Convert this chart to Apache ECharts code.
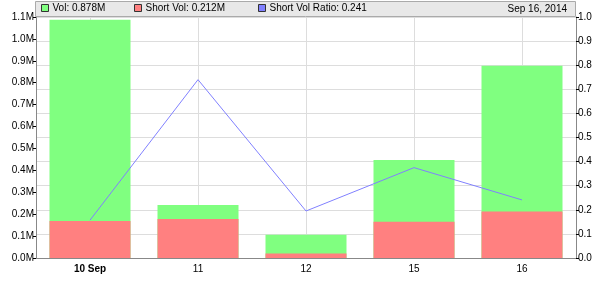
<!DOCTYPE html>
<html>
<head>
<meta charset="utf-8">
<script src="https://cdn.jsdelivr.net/npm/echarts@6/dist/echarts.min.js"></script>
<style>html,body{margin:0;padding:0;background:#fff}#c{width:600px;height:294px}</style>
</head>
<body>
<div id="c"></div>
<script>
var categories = ['10 Sep', '11', '12', '15', '16'];
var volume = [1.087, 0.242, 0.106, 0.447, 0.878];       // millions
var shortVolume = [0.169, 0.178, 0.020, 0.166, 0.212];  // millions
var shortRatio = [0.157, 0.74, 0.195, 0.375, 0.241];
var leftTicks = { min: 0, max: 1.1, interval: 0.1 };
var rightTicks = { min: 0, max: 1.0, interval: 0.1 };
var legendNames = ['Vol: 0.878M', 'Short Vol: 0.212M', 'Short Vol Ratio: 0.241'];
var dateText = 'Sep 16, 2014';

var FONT = 'Liberation Sans, Arial, sans-serif';
var chart = echarts.init(document.getElementById('c'), null, { renderer: 'canvas' });

function legendAt(name, left) {
  return {
    data: [name], left: left, top: 3, itemWidth: 7, itemHeight: 7, itemGap: 0,
    icon: 'rect', padding: 0, selectedMode: false,
    itemStyle: { borderColor: '#333', borderWidth: 1 },
    textStyle: { fontFamily: FONT, fontSize: 10, color: '#000', padding: [1, 0, 0, -1] }
  };
}

chart.setOption({
  animation: false,
  graphic: [
    { type: 'rect', z: 1, shape: { x: 35.5, y: 1.5, width: 540, height: 15 },
      style: { fill: '#e8e8e8', stroke: '#aaaaaa', lineWidth: 1 } },
    { type: 'text', z: 2, right: 33, top: 4,
      style: { text: dateText, font: '10px ' + FONT, fill: '#000' } }
  ],
  legend: [legendAt(legendNames[0], 41), legendAt(legendNames[1], 134), legendAt(legendNames[2], 258)],
  grid: { left: 36, right: 24, top: 17, bottom: 36, containLabel: false },
  xAxis: {
    type: 'category', data: categories, boundaryGap: true,
    axisLine: { lineStyle: { color: '#888', width: 1 } },
    axisTick: { show: false },
    axisLabel: {
      fontFamily: FONT, fontSize: 10, color: '#000', margin: 6,
      formatter: function (v, i) { return i === 0 ? '{b|' + v + '}' : v; },
      rich: { b: { fontFamily: FONT, fontSize: 10, fontWeight: 'bold', color: '#000' } }
    },
    splitLine: { show: true, alignWithLabel: true, lineStyle: { color: '#dddddd', width: 1 } }
  },
  yAxis: [
    {
      type: 'value', min: leftTicks.min, max: leftTicks.max, interval: leftTicks.interval, position: 'left',
      axisLine: { show: true, lineStyle: { color: '#888' } },
      axisTick: { show: true, length: 3, lineStyle: { color: '#000' } },
      axisLabel: { fontFamily: FONT, fontSize: 10, color: '#000', margin: 2,
        formatter: function (v) { return v.toFixed(1) + 'M'; } },
      splitLine: { show: false }
    },
    {
      type: 'value', min: rightTicks.min, max: rightTicks.max, interval: rightTicks.interval, position: 'right',
      axisLine: { show: true, lineStyle: { color: '#888' } },
      axisTick: { show: true, length: 3, lineStyle: { color: '#000' } },
      axisLabel: { fontFamily: FONT, fontSize: 10, color: '#000', margin: 2,
        formatter: function (v) { return v.toFixed(1); } },
      splitLine: { show: true, lineStyle: { color: '#dddddd', width: 1 } }
    }
  ],
  series: [
    { name: legendNames[0], type: 'bar', yAxisIndex: 0, data: volume, barWidth: '75%', barGap: '-100%',
      itemStyle: { color: '#80ff80' }, z: 2 },
    { name: legendNames[1], type: 'bar', yAxisIndex: 0, data: shortVolume, barWidth: '75%', barGap: '-100%',
      itemStyle: { color: '#ff8080' }, z: 3 },
    { name: legendNames[2], type: 'line', yAxisIndex: 1, data: shortRatio, symbol: 'none',
      lineStyle: { color: '#8080ff', width: 1 }, itemStyle: { color: '#8080ff' }, z: 4 }
  ]
});
</script>
</body>
</html>
